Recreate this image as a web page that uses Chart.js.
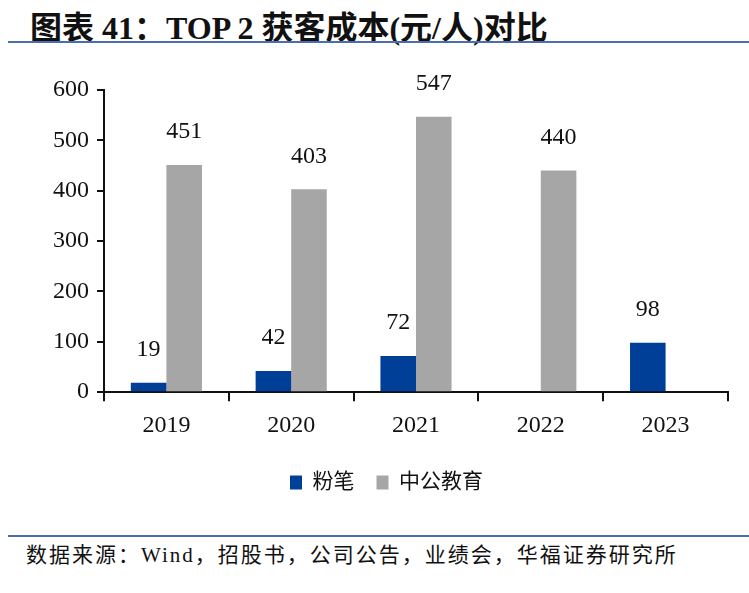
<!DOCTYPE html>
<html>
<head>
<meta charset="utf-8">
<script src="https://cdn.jsdelivr.net/npm/chart.js@4"></script>
<style>
  html,body{margin:0;padding:0;background:#fff;}
  body{width:749px;height:593px;position:relative;overflow:hidden;}
  #title{position:absolute;left:30px;top:2px;font:bold 32px "Liberation Serif","Noto Sans CJK SC",serif;color:#111;white-space:nowrap;}
  #topline{position:absolute;left:8px;top:41px;width:741px;height:2px;background:#4a6fae;}
  #wrap{position:absolute;left:0;top:60px;width:749px;height:460px;}
  #botline{position:absolute;left:8px;top:535px;width:741px;height:2px;background:#4a6fae;}
  #source{position:absolute;left:26px;top:538px;font:21px "Liberation Serif","Noto Sans CJK SC",serif;letter-spacing:2px;color:#111;white-space:nowrap;}
</style>
</head>
<body>
<div id="title">图表 41：TOP 2 获客成本(元/人)对比</div>
<div id="topline"></div>
<div id="wrap"><canvas id="chart"></canvas></div>
<div id="botline"></div>
<div id="source">数据来源：Wind，招股书，公司公告，业绩会，华福证券研究所</div>
<script>
// ─── DATA ───────────────────────────────────────────────────────────
const YEARS=['2019','2020','2021','2022','2023'];
const FENBI=[19,42,72,null,98];
const OFFCN=[451,403,547,440,null];
const Y_TICKS=[0,100,200,300,400,500,600];

const FONT='"Liberation Serif","Times New Roman",serif';
const CJK='"Liberation Serif","Noto Sans CJK SC",serif';

// value labels above each bar
const valueLabels={
  id:'valueLabels',
  afterDatasetsDraw(chart){
    const ctx=chart.ctx;
    ctx.save();
    ctx.font='24px '+FONT;
    ctx.fillStyle='#111';
    ctx.textAlign='center';
    ctx.textBaseline='middle';
    chart.data.datasets.forEach((ds,di)=>{
      chart.getDatasetMeta(di).data.forEach((bar,i)=>{
        const v=ds.data[i];
        if(v==null) return;
        ctx.fillText(String(v),bar.x,bar.y-33);
      });
    });
    ctx.restore();
  }
};

new Chart(document.getElementById('chart'),{
  type:'bar',
  data:{labels:YEARS,datasets:[
    {label:'粉笔',data:FENBI,backgroundColor:'#003f98',barPercentage:1,categoryPercentage:0.57},
    {label:'中公教育',data:OFFCN,backgroundColor:'#a6a6a6',barPercentage:1,categoryPercentage:0.57}
  ]},
  options:{
    responsive:true,maintainAspectRatio:false,animation:false,
    layout:{padding:{left:45,right:21,top:30,bottom:17}},
    plugins:{
      legend:{position:'bottom',labels:{color:'#111',font:{size:21,family:CJK},boxWidth:12,boxHeight:14,padding:22,useBorderRadius:false}},
      tooltip:{enabled:false}
    },
    scales:{
      x:{
        grid:{display:true,drawOnChartArea:false,color:'#111',lineWidth:2,tickLength:9,offset:true},
        border:{color:'#111',width:2},
        ticks:{color:'#111',font:{size:24,family:FONT},padding:10}
      },
      y:{
        min:0,max:600,
        afterBuildTicks:a=>{a.ticks=Y_TICKS.map(v=>({value:v}));},
        grid:{display:true,drawOnChartArea:false,color:'#111',lineWidth:2,tickLength:7},
        border:{color:'#111',width:2},
        ticks:{color:'#111',font:{size:24,family:FONT},padding:8}
      }
    }
  },
  plugins:[valueLabels]
});
</script>
</body>
</html>
